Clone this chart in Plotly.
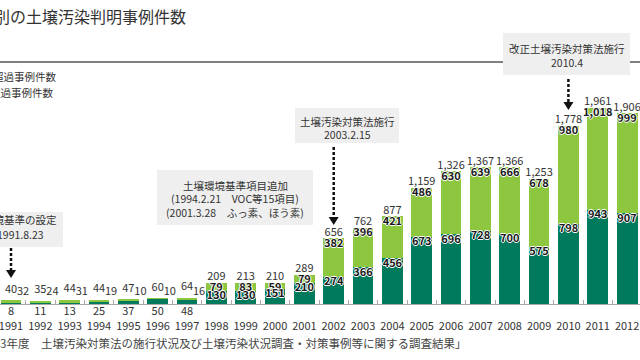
import plotly.graph_objects as go

# ---------------- data ----------------
years = ["1991", "1992", "1993", "1994", "1995", "1996", "1997", "1998", "1999", "2000", "2001",
         "2002", "2003", "2004", "2005", "2006", "2007", "2008", "2009", "2010", "2011", "2012"]
dark_counts = [8, 11, 13, 25, 37, 50, 48, 130, 130, 151, 210,
               274, 366, 456, 673, 696, 728, 700, 575, 798, 943, 907]
light_counts = [32, 24, 31, 19, 10, 10, 16, 79, 83, 59, 79,
                382, 396, 421, 486, 630, 639, 666, 678, 980, 1018, 999]
totals = [40, 35, 44, 44, 47, 60, 64, 209, 213, 210, 289,
          656, 762, 877, 1159, 1326, 1367, 1366, 1253, 1778, 1961, 1906]

title_text = "別の土壌汚染判明事例件数"
legend_lines = ["超過事例件数", "超過事例件数"]
source_text = "3年度　土壌汚染対策法の施行状況及び土壌汚染状況調査・対策事例等に関する調査結果」"

events = [
    {"lines": ["土壌環境基準の設定", "1991.8.23"], "year": "1991"},
    {"lines": ["土壌環境基準項目追加", "(1994.2.21　VOC等15項目)", "(2001.3.28　ふっ素、ほう素)"], "year": None},
    {"lines": ["土壌汚染対策法施行", "2003.2.15"], "year": "2002"},
    {"lines": ["改正土壌汚染対策法施行", "2010.4"], "year": "2010"},
]

# ---------------- style ----------------
DARK = "#007a5c"
LIGHT = "#8dc63f"
TXT = "#333333"
FONT = "Noto Sans CJK JP"
W, H = 640, 360
PLOT_BOTTOM = 304           # pixel row of the baseline
X_RANGE = [-0.375, 21.44]
Y_RANGE = [0, 3040]
HALO = "1px 0 0 #ffffff, -1px 0 0 #ffffff, 0 1px 0 #ffffff, 0 -1px 0 #ffffff"


def pxp(x):
    return x / W


def pyp(y):
    return (PLOT_BOTTOM - y) / PLOT_BOTTOM


def cat_px(year):
    i = years.index(year)
    return (i - X_RANGE[0]) / (X_RANGE[1] - X_RANGE[0]) * W


fig = go.Figure()
fig.add_bar(x=years, y=dark_counts, marker=dict(color=DARK, line=dict(width=0)),
            width=0.71, name="dark", hoverinfo="skip")
fig.add_bar(x=years, y=light_counts, marker=dict(color=LIGHT, line=dict(width=0)),
            width=0.71, name="light", hoverinfo="skip")

# ---- value labels (text traces) ----
big = [i for i, d in enumerate(dark_counts) if d >= 100]
small = [i for i, d in enumerate(dark_counts) if d < 100]
lab_font = dict(family=FONT, size=11, color=TXT)
halo_font = dict(family=FONT, size=11, color="#1a1a1a", weight=700, shadow=HALO)


def fmt(v):
    return f"{v:,}"


# totals above large bars
fig.add_scatter(x=[years[i] for i in big], y=[totals[i] for i in big],
                text=[fmt(totals[i]) for i in big], mode="text", textposition="top center",
                textfont=lab_font, cliponaxis=False, hoverinfo="skip")
# light-segment labels (top of stack, inside)
fig.add_scatter(x=[years[i] for i in big], y=[totals[i] for i in big],
                text=[fmt(light_counts[i]) for i in big], mode="text", textposition="bottom center",
                textfont=halo_font, cliponaxis=False, hoverinfo="skip")
# dark-segment labels (top of dark segment, inside)
fig.add_scatter(x=[years[i] for i in big], y=[dark_counts[i] for i in big],
                text=[fmt(dark_counts[i]) for i in big], mode="text", textposition="bottom center",
                textfont=halo_font, cliponaxis=False, hoverinfo="skip")
# small bars: total above
fig.add_scatter(x=[years[i] for i in small], y=[totals[i] for i in small],
                text=[fmt(totals[i]) for i in small], mode="markers+text", textposition="top center",
                marker=dict(size=6, opacity=0), textfont=lab_font, cliponaxis=False, hoverinfo="skip")
# small bars: light value to the right
fig.add_scatter(x=[years[i] for i in small], y=[0 for i in small],
                text=[fmt(light_counts[i]) for i in small], mode="markers+text", textposition="top right",
                marker=dict(size=8, opacity=0), textfont=lab_font, cliponaxis=False, hoverinfo="skip")
# small bars: dark value below baseline
fig.add_scatter(x=[years[i] for i in small], y=[0 for i in small],
                text=[fmt(dark_counts[i]) for i in small], mode="markers+text", textposition="bottom center",
                marker=dict(size=2, opacity=0), textfont=lab_font, cliponaxis=False, hoverinfo="skip")

ann = []
shapes = []
# header rule
shapes.append(dict(type="line", xref="paper", yref="paper", x0=0, x1=1, y0=pyp(62), y1=pyp(62),
                   line=dict(color="#555555", width=1.5)))

box_geo = [
    dict(box=(-20, 63, 212, 247), lines_y=[220, 234], anchor="right", xs=[59, 46]),
    dict(box=(157, 313, 170, 225), lines_y=[185, 198, 212], anchor="center", xs=[235, 235, 235]),
    dict(box=(295, 399, 108, 143), lines_y=[121, 134], anchor="center", xs=[347, 347]),
    dict(box=(503, 630, 33, 75), lines_y=[48, 62], anchor="center", xs=[567, 567]),
]
arrow_geo = [(248, 270), None, (147, 217), (79, 102)]

for ev, g, ag in zip(events, box_geo, arrow_geo):
    x0, x1, y0, y1 = g["box"]
    shapes.append(dict(type="rect", xref="paper", yref="paper", x0=pxp(x0), x1=pxp(x1),
                       y0=pyp(y1), y1=pyp(y0), fillcolor="#efefef", line=dict(width=0), layer="above"))
    for line, ly, lx in zip(ev["lines"], g["lines_y"], g["xs"]):
        ann.append(dict(x=pxp(lx), y=pyp(ly), xref="paper", yref="paper", text=line, showarrow=False,
                        xanchor=g["anchor"], yanchor="middle", font=dict(size=10.5, color=TXT)))
    if ev["year"] is not None and ag is not None:
        ax = cat_px(ev["year"])
        shapes.append(dict(type="line", xref="paper", yref="paper", x0=pxp(ax), x1=pxp(ax),
                           y0=pyp(ag[0]), y1=pyp(ag[1]),
                           line=dict(color="#111111", width=2.5, dash="3px,2px")))
        tip = ag[1] + 8
        path = (f"M {pxp(ax - 5)} {pyp(ag[1])} L {pxp(ax + 5)} {pyp(ag[1])} "
                f"L {pxp(ax)} {pyp(tip)} Z")
        shapes.append(dict(type="path", xref="paper", yref="paper", path=path,
                           fillcolor="#111111", line=dict(width=0)))

# title, legend labels, source
ann.append(dict(x=pxp(-8), y=pyp(16), xref="paper", yref="paper", text=title_text, showarrow=False,
                xanchor="left", yanchor="middle", font=dict(size=16, color=TXT)))
ann.append(dict(x=pxp(-9), y=pyp(76), xref="paper", yref="paper", text=legend_lines[0], showarrow=False,
                xanchor="left", yanchor="middle", font=dict(size=10.5, color=TXT)))
ann.append(dict(x=pxp(-12), y=pyp(92), xref="paper", yref="paper", text=legend_lines[1], showarrow=False,
                xanchor="left", yanchor="middle", font=dict(size=10.5, color=TXT)))
ann.append(dict(x=pxp(-2), y=pyp(343), xref="paper", yref="paper", text=source_text, showarrow=False,
                xanchor="left", yanchor="middle", font=dict(size=11.5, color="#444444")))

fig.update_layout(
    width=W, height=H,
    margin=dict(l=0, r=0, t=0, b=H - PLOT_BOTTOM, pad=0, autoexpand=False),
    barmode="stack", bargap=0.29, showlegend=False,
    paper_bgcolor="white", plot_bgcolor="white",
    font=dict(family=FONT, size=11, color=TXT),
    xaxis=dict(type="category", range=X_RANGE, showgrid=False, zeroline=False,
               showline=True, linecolor="#aaaaaa", linewidth=1, automargin=False,
               ticks="inside", ticklen=4, tickcolor="#aaaaaa", tickson="boundaries",
               tickangle=0, tickfont=dict(size=11, color=TXT), ticklabelstandoff=12, fixedrange=True),
    yaxis=dict(range=Y_RANGE, visible=False, fixedrange=True, automargin=False),
    annotations=ann,
    shapes=shapes,
)

fig.write_html("out.html", config={"displayModeBar": False},
               post_script="document.body.style.margin='0';")
